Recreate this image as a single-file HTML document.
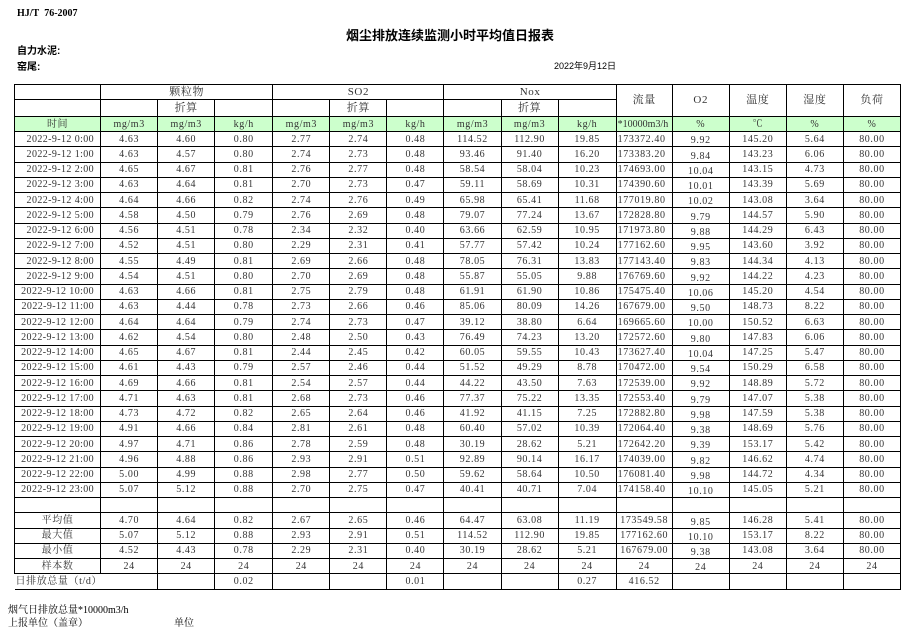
<!DOCTYPE html>
<html><head><meta charset="utf-8">
<style>
body{margin:0;background:#fff;width:914px;height:632px;position:relative;overflow:hidden;font-family:"Liberation Serif","Noto Serif CJK SC",serif;color:#333}
.abs{position:absolute;white-space:nowrap}
table{position:absolute;left:14px;top:84px;border-collapse:collapse;table-layout:fixed;width:887px}
td{border:1px solid #000;padding:0;font-size:10px;text-align:center;height:14px;line-height:13px;overflow:hidden;white-space:nowrap;letter-spacing:0.6px}
tr.d td{height:14.25px}
tr.g td{background:#ccffcc}
td.t{text-align:right;padding-right:6px;letter-spacing:0.4px}
td.f{text-align:left;padding-left:1px}
td.o{vertical-align:bottom;line-height:11px}
.h td{font-size:11px}
</style></head><body>
<div class="abs" style="left:17px;top:8px;font-size:10px;font-weight:bold;color:#000;font-family:'Liberation Serif',serif">HJ/T&nbsp;&nbsp;76-2007</div>
<div class="abs" style="left:346px;top:25px;font-size:13px;font-weight:bold;color:#000;font-family:'Liberation Sans','Noto Sans CJK SC',sans-serif">烟尘排放连续监测小时平均值日报表</div>
<div class="abs" style="left:17px;top:42px;font-size:10px;font-weight:bold;color:#000;font-family:'Liberation Sans','Noto Sans CJK SC',sans-serif">自力水泥:</div>
<div class="abs" style="left:17px;top:58px;font-size:10px;font-weight:bold;color:#000;font-family:'Liberation Sans','Noto Sans CJK SC',sans-serif">窑尾:</div>
<div class="abs" style="left:554px;top:59px;font-size:9px;color:#000;font-family:'Liberation Sans','Noto Sans CJK SC',sans-serif">2022年9月12日</div>
<table>
<colgroup><col style="width:86px"><col style="width:57px"><col style="width:57px"><col style="width:58px"><col style="width:57px"><col style="width:57px"><col style="width:57px"><col style="width:57px"><col style="width:57px"><col style="width:58px"><col style="width:56px"><col style="width:57px"><col style="width:57px"><col style="width:57px"><col style="width:57px"></colgroup>
<tr class="h"><td style="height:14px"></td><td colspan="3">颗粒物</td><td colspan="3">SO2</td><td colspan="3">Nox</td><td rowspan="2">流量</td><td rowspan="2">O2</td><td rowspan="2">温度</td><td rowspan="2">湿度</td><td rowspan="2">负荷</td></tr>
<tr class="h"><td style="height:16px"></td><td></td><td>折算</td><td></td><td></td><td>折算</td><td></td><td></td><td>折算</td><td></td></tr>
<tr class="g"><td>时间</td><td>mg/m3</td><td>mg/m3</td><td>kg/h</td><td>mg/m3</td><td>mg/m3</td><td>kg/h</td><td>mg/m3</td><td>mg/m3</td><td>kg/h</td><td class="f" style="letter-spacing:0">*10000m3/h</td><td>%</td><td>℃</td><td>%</td><td>%</td></tr>
<tr class="d"><td class="t">2022-9-12 0:00</td><td>4.63</td><td>4.60</td><td>0.80</td><td>2.77</td><td>2.74</td><td>0.48</td><td>114.52</td><td>112.90</td><td>19.85</td><td class="f">173372.40</td><td class="o">9.92</td><td>145.20</td><td>5.64</td><td>80.00</td></tr>
<tr class="d"><td class="t">2022-9-12 1:00</td><td>4.63</td><td>4.57</td><td>0.80</td><td>2.74</td><td>2.73</td><td>0.48</td><td>93.46</td><td>91.40</td><td>16.20</td><td class="f">173383.20</td><td class="o">9.84</td><td>143.23</td><td>6.06</td><td>80.00</td></tr>
<tr class="d"><td class="t">2022-9-12 2:00</td><td>4.65</td><td>4.67</td><td>0.81</td><td>2.76</td><td>2.77</td><td>0.48</td><td>58.54</td><td>58.04</td><td>10.23</td><td class="f">174693.00</td><td class="o">10.04</td><td>143.15</td><td>4.73</td><td>80.00</td></tr>
<tr class="d"><td class="t">2022-9-12 3:00</td><td>4.63</td><td>4.64</td><td>0.81</td><td>2.70</td><td>2.73</td><td>0.47</td><td>59.11</td><td>58.69</td><td>10.31</td><td class="f">174390.60</td><td class="o">10.01</td><td>143.39</td><td>5.69</td><td>80.00</td></tr>
<tr class="d"><td class="t">2022-9-12 4:00</td><td>4.64</td><td>4.66</td><td>0.82</td><td>2.74</td><td>2.76</td><td>0.49</td><td>65.98</td><td>65.41</td><td>11.68</td><td class="f">177019.80</td><td class="o">10.02</td><td>143.08</td><td>3.64</td><td>80.00</td></tr>
<tr class="d"><td class="t">2022-9-12 5:00</td><td>4.58</td><td>4.50</td><td>0.79</td><td>2.76</td><td>2.69</td><td>0.48</td><td>79.07</td><td>77.24</td><td>13.67</td><td class="f">172828.80</td><td class="o">9.79</td><td>144.57</td><td>5.90</td><td>80.00</td></tr>
<tr class="d"><td class="t">2022-9-12 6:00</td><td>4.56</td><td>4.51</td><td>0.78</td><td>2.34</td><td>2.32</td><td>0.40</td><td>63.66</td><td>62.59</td><td>10.95</td><td class="f">171973.80</td><td class="o">9.88</td><td>144.29</td><td>6.43</td><td>80.00</td></tr>
<tr class="d"><td class="t">2022-9-12 7:00</td><td>4.52</td><td>4.51</td><td>0.80</td><td>2.29</td><td>2.31</td><td>0.41</td><td>57.77</td><td>57.42</td><td>10.24</td><td class="f">177162.60</td><td class="o">9.95</td><td>143.60</td><td>3.92</td><td>80.00</td></tr>
<tr class="d"><td class="t">2022-9-12 8:00</td><td>4.55</td><td>4.49</td><td>0.81</td><td>2.69</td><td>2.66</td><td>0.48</td><td>78.05</td><td>76.31</td><td>13.83</td><td class="f">177143.40</td><td class="o">9.83</td><td>144.34</td><td>4.13</td><td>80.00</td></tr>
<tr class="d"><td class="t">2022-9-12 9:00</td><td>4.54</td><td>4.51</td><td>0.80</td><td>2.70</td><td>2.69</td><td>0.48</td><td>55.87</td><td>55.05</td><td>9.88</td><td class="f">176769.60</td><td class="o">9.92</td><td>144.22</td><td>4.23</td><td>80.00</td></tr>
<tr class="d"><td class="t">2022-9-12 10:00</td><td>4.63</td><td>4.66</td><td>0.81</td><td>2.75</td><td>2.79</td><td>0.48</td><td>61.91</td><td>61.90</td><td>10.86</td><td class="f">175475.40</td><td class="o">10.06</td><td>145.20</td><td>4.54</td><td>80.00</td></tr>
<tr class="d"><td class="t">2022-9-12 11:00</td><td>4.63</td><td>4.44</td><td>0.78</td><td>2.73</td><td>2.66</td><td>0.46</td><td>85.06</td><td>80.09</td><td>14.26</td><td class="f">167679.00</td><td class="o">9.50</td><td>148.73</td><td>8.22</td><td>80.00</td></tr>
<tr class="d"><td class="t">2022-9-12 12:00</td><td>4.64</td><td>4.64</td><td>0.79</td><td>2.74</td><td>2.73</td><td>0.47</td><td>39.12</td><td>38.80</td><td>6.64</td><td class="f">169665.60</td><td class="o">10.00</td><td>150.52</td><td>6.63</td><td>80.00</td></tr>
<tr class="d"><td class="t">2022-9-12 13:00</td><td>4.62</td><td>4.54</td><td>0.80</td><td>2.48</td><td>2.50</td><td>0.43</td><td>76.49</td><td>74.23</td><td>13.20</td><td class="f">172572.60</td><td class="o">9.80</td><td>147.83</td><td>6.06</td><td>80.00</td></tr>
<tr class="d"><td class="t">2022-9-12 14:00</td><td>4.65</td><td>4.67</td><td>0.81</td><td>2.44</td><td>2.45</td><td>0.42</td><td>60.05</td><td>59.55</td><td>10.43</td><td class="f">173627.40</td><td class="o">10.04</td><td>147.25</td><td>5.47</td><td>80.00</td></tr>
<tr class="d"><td class="t">2022-9-12 15:00</td><td>4.61</td><td>4.43</td><td>0.79</td><td>2.57</td><td>2.46</td><td>0.44</td><td>51.52</td><td>49.29</td><td>8.78</td><td class="f">170472.00</td><td class="o">9.54</td><td>150.29</td><td>6.58</td><td>80.00</td></tr>
<tr class="d"><td class="t">2022-9-12 16:00</td><td>4.69</td><td>4.66</td><td>0.81</td><td>2.54</td><td>2.57</td><td>0.44</td><td>44.22</td><td>43.50</td><td>7.63</td><td class="f">172539.00</td><td class="o">9.92</td><td>148.89</td><td>5.72</td><td>80.00</td></tr>
<tr class="d"><td class="t">2022-9-12 17:00</td><td>4.71</td><td>4.63</td><td>0.81</td><td>2.68</td><td>2.73</td><td>0.46</td><td>77.37</td><td>75.22</td><td>13.35</td><td class="f">172553.40</td><td class="o">9.79</td><td>147.07</td><td>5.38</td><td>80.00</td></tr>
<tr class="d"><td class="t">2022-9-12 18:00</td><td>4.73</td><td>4.72</td><td>0.82</td><td>2.65</td><td>2.64</td><td>0.46</td><td>41.92</td><td>41.15</td><td>7.25</td><td class="f">172882.80</td><td class="o">9.98</td><td>147.59</td><td>5.38</td><td>80.00</td></tr>
<tr class="d"><td class="t">2022-9-12 19:00</td><td>4.91</td><td>4.66</td><td>0.84</td><td>2.81</td><td>2.61</td><td>0.48</td><td>60.40</td><td>57.02</td><td>10.39</td><td class="f">172064.40</td><td class="o">9.38</td><td>148.69</td><td>5.76</td><td>80.00</td></tr>
<tr class="d"><td class="t">2022-9-12 20:00</td><td>4.97</td><td>4.71</td><td>0.86</td><td>2.78</td><td>2.59</td><td>0.48</td><td>30.19</td><td>28.62</td><td>5.21</td><td class="f">172642.20</td><td class="o">9.39</td><td>153.17</td><td>5.42</td><td>80.00</td></tr>
<tr class="d"><td class="t">2022-9-12 21:00</td><td>4.96</td><td>4.88</td><td>0.86</td><td>2.93</td><td>2.91</td><td>0.51</td><td>92.89</td><td>90.14</td><td>16.17</td><td class="f">174039.00</td><td class="o">9.82</td><td>146.62</td><td>4.74</td><td>80.00</td></tr>
<tr class="d"><td class="t">2022-9-12 22:00</td><td>5.00</td><td>4.99</td><td>0.88</td><td>2.98</td><td>2.77</td><td>0.50</td><td>59.62</td><td>58.64</td><td>10.50</td><td class="f">176081.40</td><td class="o">9.98</td><td>144.72</td><td>4.34</td><td>80.00</td></tr>
<tr class="d"><td class="t">2022-9-12 23:00</td><td>5.07</td><td>5.12</td><td>0.88</td><td>2.70</td><td>2.75</td><td>0.47</td><td>40.41</td><td>40.71</td><td>7.04</td><td class="f">174158.40</td><td class="o">10.10</td><td>145.05</td><td>5.21</td><td>80.00</td></tr>
<tr class="d"><td></td><td></td><td></td><td></td><td></td><td></td><td></td><td></td><td></td><td></td><td></td><td></td><td></td><td></td><td></td></tr>
<tr class="d"><td>平均值</td><td>4.70</td><td>4.64</td><td>0.82</td><td>2.67</td><td>2.65</td><td>0.46</td><td>64.47</td><td>63.08</td><td>11.19</td><td>173549.58</td><td class="o">9.85</td><td>146.28</td><td>5.41</td><td>80.00</td></tr>
<tr class="d"><td>最大值</td><td>5.07</td><td>5.12</td><td>0.88</td><td>2.93</td><td>2.91</td><td>0.51</td><td>114.52</td><td>112.90</td><td>19.85</td><td>177162.60</td><td class="o">10.10</td><td>153.17</td><td>8.22</td><td>80.00</td></tr>
<tr class="d"><td>最小值</td><td>4.52</td><td>4.43</td><td>0.78</td><td>2.29</td><td>2.31</td><td>0.40</td><td>30.19</td><td>28.62</td><td>5.21</td><td>167679.00</td><td class="o">9.38</td><td>143.08</td><td>3.64</td><td>80.00</td></tr>
<tr class="d"><td>样本数</td><td>24</td><td>24</td><td>24</td><td>24</td><td>24</td><td>24</td><td>24</td><td>24</td><td>24</td><td>24</td><td class="o">24</td><td>24</td><td>24</td><td>24</td></tr>
<tr class="d"><td colspan="2" style="border-left:none;text-align:left;padding-left:1px">日排放总量（t/d）</td><td></td><td>0.02</td><td></td><td></td><td>0.01</td><td></td><td></td><td>0.27</td><td>416.52</td><td></td><td></td><td></td><td></td></tr>
</table>
<div class="abs" style="left:8px;top:601px;font-size:10px;color:#000">烟气日排放总量*10000m3/h</div>
<div class="abs" style="left:8px;top:614px;font-size:10px;color:#000">上报单位（盖章）</div>
<div class="abs" style="left:174px;top:614px;font-size:10px;color:#000">单位</div>
</body></html>
